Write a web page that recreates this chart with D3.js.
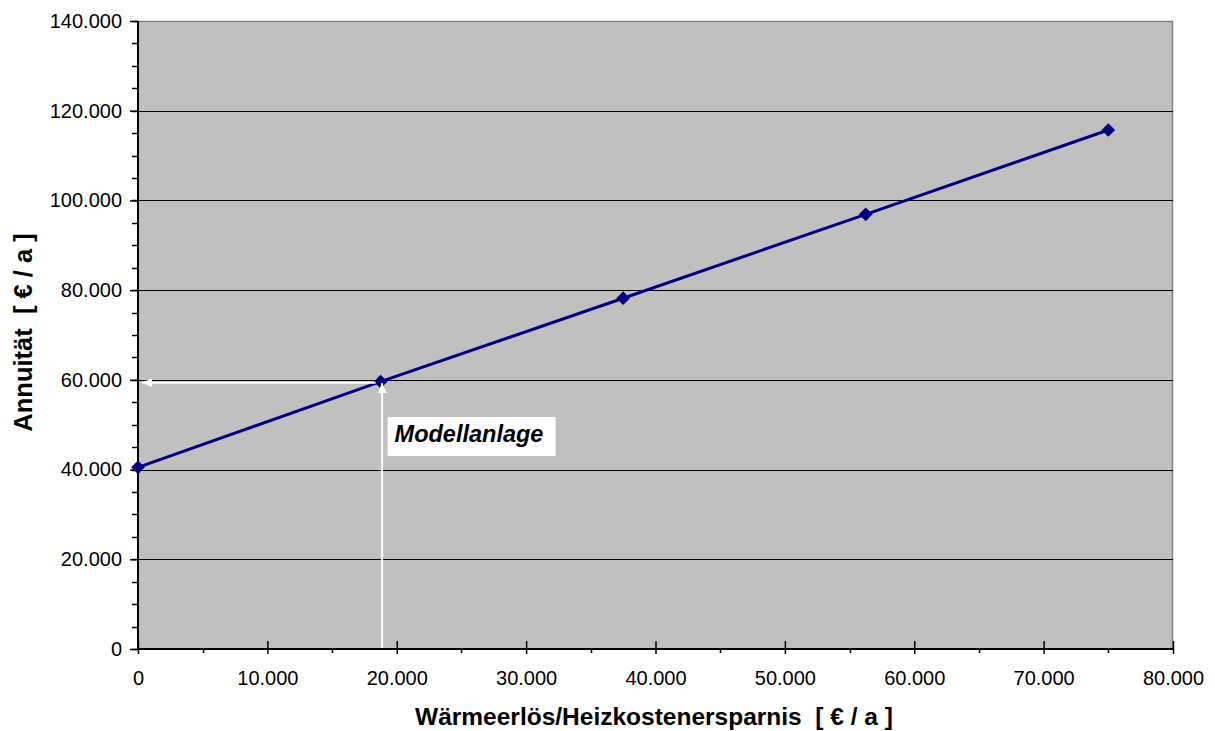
<!DOCTYPE html>
<html><head><meta charset="utf-8">
<script src="https://cdn.jsdelivr.net/npm/d3@7"></script>
<style>body{margin:0;background:#fff;font-family:"Liberation Sans",Arial,sans-serif} text{white-space:pre}</style>
</head><body><svg id="c" width="1215" height="731"></svg>
<script>
const xValues = [0, 18750, 37500, 56250, 75000];
const yValues = [40500, 59600, 78200, 96900, 115700];
const xTicks = [0,10000,20000,30000,40000,50000,60000,70000,80000];
const yTicks = [0,20000,40000,60000,80000,100000,120000,140000];
const model = {x: 18750, y: 59600, label: "Modellanlage"};
const xTitle = "Wärmeerlös/Heizkostenersparnis  [ € / a ]";
const yTitle = "Annuität  [ € / a ]";

const L=138, R=1173, T=21, B=649;
const svg=d3.select("#c");
const x=d3.scaleLinear().domain([0,80000]).range([L,R]);
const y=d3.scaleLinear().domain([0,140000]).range([B,T]);
const fmt=v=>v===0?"0":d3.format(",")(v).replace(/,/g,".");

svg.append("rect").attr("x",L).attr("y",T).attr("width",R-L).attr("height",B-T).attr("fill","#c0c0c0");
svg.append("path").attr("d",`M${L},${T+0.5}H${R-0.5}V${B}`).attr("fill","none").attr("stroke","#808080").attr("stroke-width",1.5);
svg.append("g").selectAll("line").data(yTicks.filter(d=>d>0&&d<140000)).join("line")
 .attr("x1",L).attr("x2",R).attr("y1",d=>Math.round(y(d))+0.5).attr("y2",d=>Math.round(y(d))+0.5)
 .attr("stroke","#000").attr("stroke-width",1);

const yMinor=d3.range(0,140001,5000);
svg.append("g").selectAll("line").data(yMinor).join("line")
 .attr("x1",L-6).attr("x2",L).attr("y1",d=>Math.round(y(d))+0.5).attr("y2",d=>Math.round(y(d))+0.5)
 .attr("stroke","#000").attr("stroke-width",1.5);
const xMinor=d3.range(5000,80000,10000);
svg.append("g").selectAll("line").data(xMinor).join("line")
 .attr("x1",d=>Math.round(x(d))+0.5).attr("x2",d=>Math.round(x(d))+0.5).attr("y1",B).attr("y2",B+4)
 .attr("stroke","#000").attr("stroke-width",1.5);

const yAx=svg.append("g").attr("transform",`translate(${L},0)`)
 .call(d3.axisLeft(y).tickValues(yTicks).tickFormat(fmt).tickSize(8).tickPadding(8));
const xAx=svg.append("g").attr("transform",`translate(0,${B})`)
 .call(d3.axisBottom(x).tickValues(xTicks).tickFormat(fmt).tickSize(5).tickPadding(17));
xAx.selectAll(".tick line").attr("y1",-8);
[yAx,xAx].forEach(a=>{a.select(".domain").attr("stroke","#000").attr("stroke-width",2);
 a.selectAll(".tick line").attr("stroke","#000").attr("stroke-width",1.5);
 a.selectAll("text").attr("font-family","Liberation Sans, Arial, sans-serif").attr("font-size",20).attr("fill","#000");});
yAx.select(".domain").attr("d",`M0,${B}V${T}`);
xAx.select(".domain").attr("d",`M${L},0H${R}`);

const pts=xValues.map((v,i)=>[v,yValues[i]]);
svg.append("path").datum(pts)
 .attr("d",d3.line().x(d=>x(d[0])).y(d=>y(d[1])))
 .attr("fill","none").attr("stroke","#000080").attr("stroke-width",3);
svg.append("g").selectAll("path").data(pts).join("path")
 .attr("transform",d=>`translate(${x(d[0])},${y(d[1])})`)
 .attr("d",d3.symbol(d3.symbolDiamond2,120)).attr("fill","#000080");

const defs=svg.append("defs");
defs.append("marker").attr("id","ah").attr("viewBox","0 0 10 10").attr("refX",10).attr("refY",5)
 .attr("markerWidth",10).attr("markerHeight",9).attr("markerUnits","userSpaceOnUse").attr("orient","auto")
 .attr("preserveAspectRatio","none")
 .append("path").attr("d","M0,0L10,5L0,10Z").attr("fill","#fff");
const mx=x(model.x), my=y(model.y);
svg.append("line").attr("x1",mx-5).attr("y1",my+1).attr("x2",L+4).attr("y2",my+1)
 .attr("stroke","#fff").attr("stroke-width",2).attr("marker-end","url(#ah)");
svg.append("line").attr("x1",mx+1.5).attr("y1",B-1).attr("x2",mx+1.5).attr("y2",my+1.5)
 .attr("stroke","#fff").attr("stroke-width",2).attr("marker-end","url(#ah)");
svg.append("rect").attr("x",mx+7).attr("y",417).attr("width",168).attr("height",39).attr("fill","#fff");
svg.append("text").attr("x",mx+14).attr("y",442)
 .attr("font-size",23.5).attr("font-weight","bold").attr("font-style","italic").text(model.label);

svg.append("text").attr("x",654).attr("y",725).attr("text-anchor","middle")
 .attr("font-size",24.5).attr("font-weight","bold").text(xTitle);
svg.append("text").attr("transform",`translate(32,332.5) rotate(-90)`).attr("text-anchor","middle")
 .attr("font-size",25.5).attr("font-weight","bold").text(yTitle);
</script></body></html>
